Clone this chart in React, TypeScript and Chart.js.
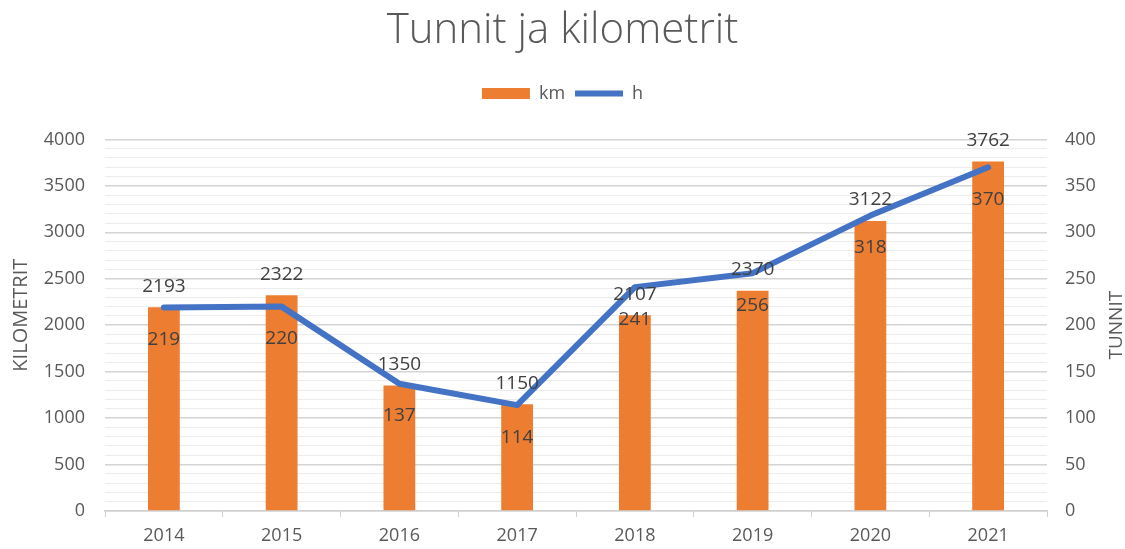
import React, { useEffect, useRef } from "react";
import { Chart, registerables } from "chart.js";

Chart.register(...registerables);

const years = ["2014", "2015", "2016", "2017", "2018", "2019", "2020", "2021"];
const kmValues = [2193, 2322, 1350, 1150, 2107, 2370, 3122, 3762];
const hValues = [219, 220, 137, 114, 241, 256, 318, 370];

const FONT = '"Open Sans", "Noto Sans", sans-serif';
const TEXT = "#595959";

const dataLabels = {
  id: "dataLabels",
  afterDatasetsDraw(chart: any) {
    const ctx = chart.ctx;
    ctx.save();
    ctx.font = `19px ${FONT}`;
    ctx.fillStyle = "#404040";
    ctx.textAlign = "center";
    ctx.textBaseline = "middle";
    chart.getDatasetMeta(0).data.forEach((el: any, i: number) => {
      ctx.fillText(String(kmValues[i]), el.x, el.y - 21);
    });
    chart.getDatasetMeta(1).data.forEach((el: any, i: number) => {
      ctx.fillText(String(hValues[i]), el.x, el.y + 32);
    });
    ctx.restore();
  },
};

const axisTitles = {
  id: "axisTitles",
  afterDraw(chart: any) {
    const ctx = chart.ctx;
    const { top, bottom } = chart.chartArea;
    const cy = (top + bottom) / 2;
    ctx.save();
    ctx.font = `20px ${FONT}`;
    ctx.fillStyle = TEXT;
    ctx.textAlign = "center";
    ctx.textBaseline = "middle";
    ctx.translate(21, cy - 10);
    ctx.rotate(-Math.PI / 2);
    ctx.fillText("KILOMETRIT", 0, 0);
    ctx.restore();
    ctx.save();
    ctx.font = `19px ${FONT}`;
    ctx.fillStyle = TEXT;
    ctx.textAlign = "center";
    ctx.textBaseline = "middle";
    ctx.translate(1117, cy);
    ctx.rotate(-Math.PI / 2);
    ctx.fillText("TUNNIT", 0, 0);
    ctx.restore();
  },
};

export default function App() {
  const ref = useRef<HTMLCanvasElement | null>(null);
  useEffect(() => {
    if (!ref.current) return;
    const chart = new Chart(ref.current, {
      type: "bar",
      data: {
        labels: years,
        datasets: [
          {
            type: "bar",
            label: "km",
            data: kmValues,
            backgroundColor: "#ED7D31",
            borderWidth: 0,
            barPercentage: 0.27,
            categoryPercentage: 1,
            yAxisID: "y",
            order: 1,
            pointStyle: "rect",
          } as any,
          {
            type: "line",
            label: "h",
            data: hValues,
            borderColor: "#4472C4",
            backgroundColor: "#4472C4",
            borderWidth: 6,
            borderCapStyle: "round",
            borderJoinStyle: "round",
            pointRadius: 0,
            tension: 0,
            yAxisID: "y2",
            order: 0,
            pointStyle: "line",
          } as any,
        ],
      },
      options: {
        responsive: false,
        animation: false,
        layout: { padding: 0 },
        plugins: {
          title: {
            display: true,
            text: "Tunnit ja kilometrit",
            color: TEXT,
            font: { family: FONT, size: 42, weight: "300" as any },
            padding: { top: 6, bottom: 18 },
          },
          legend: {
            display: true,
            position: "top",
            labels: {
              color: TEXT,
              font: { family: FONT, size: 18 },
              usePointStyle: true,
              pointStyleWidth: 48,
              boxHeight: 11,
              padding: 10,
              sort: (a: any, b: any) => a.datasetIndex - b.datasetIndex,
            },
          },
          tooltip: { enabled: false },
        },
        scales: {
          x: {
            type: "category",
            offset: true,
            grid: {
              display: true,
              offset: true,
              drawOnChartArea: false,
              drawTicks: true,
              tickLength: 6,
              color: "#d0d0d0",
            },
            border: { display: true, color: "#d0d0d0", width: 1.5 },
            ticks: { color: TEXT, font: { family: FONT, size: 18 }, padding: 8 },
            afterFit: (s: any) => {
              s.height = 38;
            },
          },
          xTop: {
            type: "category",
            position: "top",
            display: true,
            grid: { display: false },
            border: { display: false },
            ticks: { display: false },
            afterFit: (s: any) => {
              s.height = 27;
            },
          },
          y: {
            position: "left",
            min: 0,
            max: 4000,
            ticks: {
              stepSize: 100,
              autoSkip: false,
              color: TEXT,
              font: { family: FONT, size: 18 },
              padding: 20,
              callback: (v: any) => (Number(v) % 500 === 0 ? String(v) : ""),
            },
            grid: {
              drawTicks: false,
              color: (c: any) => (c.tick && c.tick.value % 500 === 0 ? "#d4d4d4" : "#ececec"),
              lineWidth: (c: any) => (c.tick && c.tick.value % 500 === 0 ? 1.5 : 1),
            },
            border: { display: false },
            afterFit: (s: any) => {
              s.width = 105;
            },
          },
          y2: {
            position: "right",
            min: 0,
            max: 400,
            ticks: {
              stepSize: 50,
              autoSkip: false,
              color: TEXT,
              font: { family: FONT, size: 18 },
              padding: 18,
            },
            grid: { display: false, drawTicks: false },
            border: { display: false },
            afterFit: (s: any) => {
              s.width = 78;
            },
          },
        },
      },
      plugins: [dataLabels, axisTitles],
    } as any);
    return () => chart.destroy();
  }, []);
  return (
    <div style={{ position: "absolute", left: 0, top: 0, width: 1125, height: 549, background: "#fff" }}>
      <canvas ref={ref} width={1125} height={549} style={{ display: "block" }} />
    </div>
  );
}
